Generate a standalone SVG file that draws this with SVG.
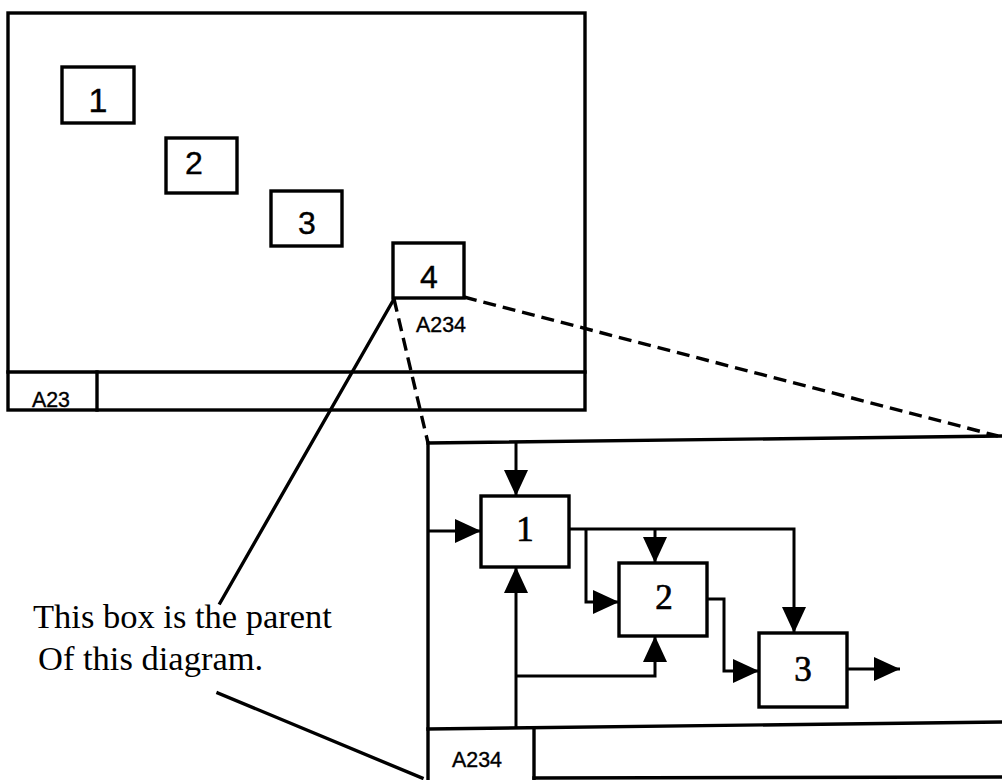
<svg xmlns="http://www.w3.org/2000/svg" width="1002" height="780" viewBox="0 0 1002 780">
<style>
.ln{fill:none;stroke:#000;stroke-width:3.4;stroke-linecap:square}
.cn{fill:none;stroke:#000;stroke-width:3;stroke-linejoin:miter}
.ds{fill:none;stroke:#000;stroke-width:3.4;stroke-dasharray:13 7}
.bx{fill:#fff;stroke:#000;stroke-width:3.4}
.sn{font-family:"Liberation Sans",Arial,sans-serif;fill:#000;stroke:#000;stroke-width:0.4}
.sf{font-family:"Liberation Serif","Times New Roman",serif;fill:#000}
.dg{stroke:#000;stroke-width:0.7}
</style>
<defs>
<marker id="ah" viewBox="0 0 26 24" refX="26" refY="12" markerWidth="26" markerHeight="24" markerUnits="userSpaceOnUse" orient="auto">
<path d="M0,0 L26,12 L0,24 z" fill="#000"/>
</marker>
</defs>
<rect width="1002" height="780" fill="#fff"/>
<g id="parent-frame">
<rect x="8" y="13" width="577" height="397" class="ln"/>
<line x1="8" y1="372" x2="585" y2="372" class="ln"/>
<line x1="97" y1="372" x2="97" y2="410" class="ln"/>
<text x="32" y="407" class="sn" font-size="22" textLength="38" lengthAdjust="spacingAndGlyphs">A23</text>
</g>
<g id="p1"><rect x="62" y="67" width="72" height="56" class="bx"/><text x="98" y="112" class="sn" font-size="34" text-anchor="middle">1</text></g>
<g id="p2"><rect x="166" y="138" width="71" height="55" class="bx"/><text x="194" y="174" class="sn" font-size="32" text-anchor="middle">2</text></g>
<g id="p3"><rect x="271" y="191" width="71" height="55" class="bx"/><text x="307" y="234" class="sn" font-size="32" text-anchor="middle">3</text></g>
<g id="p4"><rect x="393" y="243" width="71" height="55" class="bx"/><text x="429" y="288" class="sn" font-size="32" text-anchor="middle">4</text>
<text x="416" y="332" class="sn" font-size="22" textLength="50" lengthAdjust="spacingAndGlyphs">A234</text></g>
<g id="pointers">
<line x1="394" y1="299" x2="220" y2="603" class="ln"/>
<line x1="218" y1="693" x2="422" y2="778" class="ln"/>
<line x1="394" y1="299" x2="428" y2="443" class="ds"/>
<line x1="464" y1="297" x2="998" y2="436" class="ds"/>
</g>
<g id="note">
<text x="33" y="628" class="sf" font-size="34.5">This box is the parent</text>
<text x="38" y="670" class="sf" font-size="34.5">Of this diagram.</text>
</g>
<g id="child-frame">
<path d="M428,443 L1002,436" class="ln"/>
<path d="M428,443 L428,780" class="ln"/>
<path d="M428,729 L1002,722" class="ln"/>
<path d="M534,729 L534,780" class="ln"/>
<path d="M534,778 L1002,777" class="ln"/>
<text x="452" y="767" class="sn" font-size="22" textLength="50" lengthAdjust="spacingAndGlyphs">A234</text>
</g>
<g id="c1"><rect x="481" y="496" width="88" height="71" class="bx"/><text x="525" y="541" class="sf dg" font-size="35" text-anchor="middle">1</text></g>
<g id="c2"><rect x="619" y="563" width="88" height="73" class="bx"/><text x="664" y="609" class="sf dg" font-size="35" text-anchor="middle">2</text></g>
<g id="c3"><rect x="759" y="633" width="88" height="74" class="bx"/><text x="803" y="681" class="sf dg" font-size="35" text-anchor="middle">3</text></g>
<g id="connectors">
<path d="M516,443 L516,496" class="cn" marker-end="url(#ah)"/>
<path d="M428,531 L481,531" class="cn" marker-end="url(#ah)"/>
<path d="M569,529 L794,529 L794,633" class="cn" marker-end="url(#ah)"/>
<path d="M655,529 L655,563" class="cn" marker-end="url(#ah)"/>
<path d="M586,529 L586,602 L619,602" class="cn" marker-end="url(#ah)"/>
<path d="M707,599 L724,599 L724,671 L759,671" class="cn" marker-end="url(#ah)"/>
<path d="M847,669 L900,669" class="cn" marker-end="url(#ah)"/>
<path d="M516,729 L516,567" class="cn" marker-end="url(#ah)"/>
<path d="M516,676 L655,676 L655,636" class="cn" marker-end="url(#ah)"/>
</g>
</svg>
